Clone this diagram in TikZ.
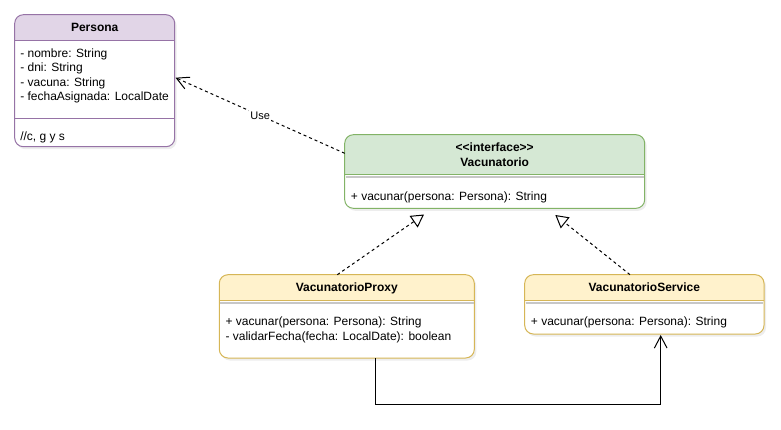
\documentclass[tikz,border=0pt]{standalone}
\usepackage{fontspec}
\setmainfont{Liberation Sans}
\newfontfamily\nomapsans{Liberation Sans}
\usetikzlibrary{arrows.meta,fit}
\definecolor{purpfill}{HTML}{E1D5E7}
\definecolor{purpline}{HTML}{9673A6}
\definecolor{greenfill}{HTML}{D5E8D4}
\definecolor{greenline}{HTML}{82B366}
\definecolor{yelfill}{HTML}{FFF2CC}
\definecolor{yelline}{HTML}{D6B656}
\tikzset{
  member/.style={anchor=base west, inner sep=0pt, font=\fontsize{9}{11}\selectfont},
  classtitle/.style={anchor=base, inner sep=0pt, font=\bfseries\fontsize{9}{11}\selectfont},
  frame/.style={draw=#1, line width=0.75pt, rounded corners=6.5pt, inner sep=0pt},
  dep/.style={draw, line width=0.75pt, dash pattern=on 2.25pt off 2.25pt},
  assoc/.style={draw, line width=0.75pt},
  realize/.style={-{Triangle[open, length=9.5pt, width=10.5pt, fill=white]}},
  openhead/.style={-{Straight Barb[length=9pt, width=9.5pt]}},
  edgelabel/.style={fill=white, inner sep=1pt, font=\fontsize{8.25}{10}\selectfont},
}
\newcommand\umlbox[8]{%
  \fill[black!7, rounded corners=6.5pt] ({#2+2},{#3+2.5}) rectangle ({#4+2},{#5+2.5});
  \begin{scope}
    \clip[rounded corners=6.5pt] (#2,#3) rectangle (#4,#5);
    \fill[white] (#2,#3) rectangle (#4,#5);
    \fill[#7] (#2,#3) rectangle (#4,#6);
    \draw[#8, line width=0.75pt] (#2,#6) -- (#4,#6);
  \end{scope}
  \node[frame=#8, fit={(#2,#3) (#4,#5)}] (#1) {};
}
\begin{document}
\begin{tikzpicture}[x=0.75pt, y=-0.75pt]
\useasboundingbox (0,0) rectangle (781,429);

% Persona
\umlbox{persona}{14.7}{14.7}{174.7}{146.7}{40.7}{purpfill}{purpline}
\draw[purpline, line width=0.75pt] (14.7,118.3) -- (174.7,118.3);
\node[classtitle] (pt) at (94.7,31.5) {Persona};
\node[member] (pa1) at (20,57.3) {- nombre: String};
\node[member] (pa2) at (20,71.7) {- dni: String};
\node[member] (pa3) at (20,86.1) {- vacuna: String};
\node[member] (pa4) at (20,100.5) {- fechaAsignada: LocalDate};
\node[member] (pm1) at (20,140.7) {//c, g y s};

% Vacunatorio
\umlbox{vac}{344.7}{134.7}{644.7}{208.3}{174.3}{greenfill}{greenline}
\draw[black!22, line width=1.6pt] (345.5,176.6) -- (643.9,176.6);
\node[classtitle] (vs) at (494.7,151.3) {\nomapsans\bfseries <<interface>>};
\node[classtitle] (vt) at (494.7,166) {Vacunatorio};
\node[member] (vm1) at (350.7,200) {+ vacunar(persona: Persona): String};

% VacunatorioProxy
\umlbox{proxy}{219.3}{274.7}{474.3}{358}{300.7}{yelfill}{yelline}
\draw[black!22, line width=1.6pt] (220.1,303) -- (473.5,303);
\node[classtitle] (prt) at (346.8,291.5) {VacunatorioProxy};
\node[member] (prm1) at (225.3,325.7) {+ vacunar(persona: Persona): String};
\node[member] (prm2) at (225.3,340) {- validarFecha(fecha: LocalDate): boolean};

% VacunatorioService
\umlbox{service}{524.7}{274.7}{764}{334}{300.7}{yelfill}{yelline}
\draw[black!22, line width=1.6pt] (525.5,303) -- (763.2,303);
\node[classtitle] (st) at (644.3,291.5) {VacunatorioService};
\node[member] (sm1) at (530.7,325.7) {+ vacunar(persona: Persona): String};

% connectors
\coordinate (useend) at (175.5,77.7);
\coordinate (usestart) at (344.7,153.3);
\draw[dep, openhead] (usestart) -- node[edgelabel, pos=0.5] (uselabel) {Use} (useend);

\coordinate (r1s) at (337.3,274.7);
\coordinate (r1e) at (424,214.5);
\draw[dep, realize] (r1s) -- (r1e);

\coordinate (r2s) at (630,274.7);
\coordinate (r2e) at (555.3,215);
\draw[dep, realize] (r2s) -- (r2e);

\coordinate (a1s) at (375,358);
\coordinate (a1e) at (660.7,335);
\draw[assoc, openhead] (a1s) -- (375,404) -- (660.7,404) -- (a1e);
\end{tikzpicture}
\end{document}
